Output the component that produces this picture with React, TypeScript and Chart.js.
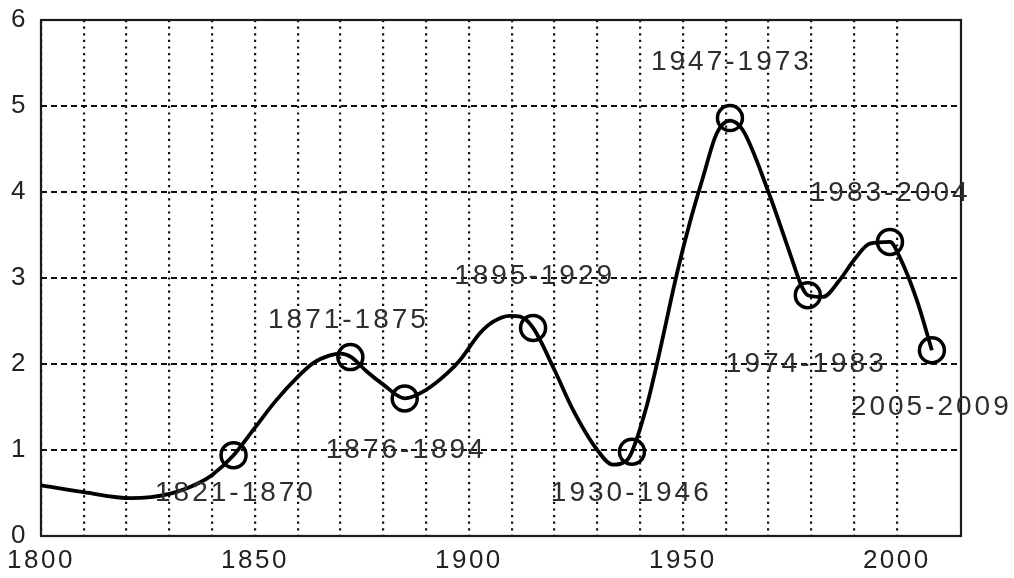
import React, { useEffect, useRef } from 'react';
import { Chart, registerables } from 'chart.js';

Chart.register(...registerables);

// Smooth curve
const curveYears = [
  1800, 1810, 1821, 1830, 1837, 1840, 1845, 1850, 1855, 1860, 1863.6, 1867.5, 1870, 1872.5,
  1876.2, 1880, 1885, 1890, 1894.9, 1898, 1902.6, 1905.6, 1909.6, 1912, 1915, 1920, 1924.3,
  1930, 1933.6, 1936.9, 1938.1, 1941.6, 1944.2, 1948.6, 1951.6, 1954.7, 1957.9, 1961, 1964,
  1970, 1975, 1977.8, 1979.2, 1982.7, 1986.7, 1990, 1993.7, 1998.4, 2000.7, 2004.7, 2008.2,
];
const curveValues = [
  0.59, 0.51, 0.44, 0.49, 0.62, 0.71, 0.94, 1.26, 1.58, 1.85, 2.01, 2.1, 2.12, 2.08,
  1.91, 1.76, 1.6, 1.7, 1.89, 2.05, 2.36, 2.49, 2.56, 2.55, 2.42, 1.93, 1.47,
  1.0, 0.83, 0.88, 0.98, 1.52, 2.06, 3.05, 3.64, 4.17, 4.68, 4.83, 4.72,
  4.0, 3.29, 2.9, 2.8, 2.78, 2.98, 3.21, 3.4, 3.42, 3.24, 2.74, 2.16,
];

// Circle markers (one per period)
const pointYears = [1845, 1872.3, 1885, 1915, 1938.1, 1961, 1979.2, 1998.4, 2008.2];
const pointValues = [0.94, 2.08, 1.6, 2.42, 0.98, 4.86, 2.8, 3.42, 2.16];
const periodLabels = [
  '1821-1870', '1871-1875', '1876-1894', '1895-1929', '1930-1946',
  '1947-1973', '1974-1983', '1983-2004', '2005-2009',
];
const labelYears = [1845.1, 1871.5, 1885, 1915, 1937.6, 1961, 1978.5, 1998.1, 2007.7];
const labelValues = [0.5, 2.51, 1.0, 3.02, 0.5, 5.51, 2.0, 3.99, 1.5];

const xMin = 1800;
const xMax = 2015;
const yMin = 0;
const yMax = 6;

const FONT = "'Liberation Sans', Arial, sans-serif";

const spacingPlugin = {
  id: 'spacing',
  beforeUpdate(chart: any) {
    chart.ctx.letterSpacing = '2.5px';
  },
  beforeDraw(chart: any) {
    chart.ctx.letterSpacing = '2.5px';
  },
};

const framePlugin = {
  id: 'frame',
  beforeDatasetsDraw(chart: any) {
    const { ctx, chartArea: a } = chart;
    ctx.save();
    ctx.setLineDash([]);
    ctx.lineWidth = 2.2;
    ctx.strokeStyle = '#1a1a1a';
    ctx.strokeRect(a.left, a.top, a.right - a.left, a.bottom - a.top);
    ctx.restore();
  },
};

const labelPlugin = {
  id: 'periodLabels',
  afterDatasetsDraw(chart: any) {
    const { ctx } = chart;
    const xs = chart.scales.x;
    const ys = chart.scales.y;
    ctx.save();
    ctx.letterSpacing = '3px';
    ctx.font = `28px ${FONT}`;
    ctx.fillStyle = '#2e2e2e';
    ctx.textAlign = 'center';
    ctx.textBaseline = 'middle';
    periodLabels.forEach((t, i) => {
      ctx.fillText(t, xs.getPixelForValue(labelYears[i]) + 1.5, ys.getPixelForValue(labelValues[i]));
    });
    ctx.restore();
  },
};

export default function App() {
  const ref = useRef<HTMLCanvasElement | null>(null);

  useEffect(() => {
    if (!ref.current) return;
    const chart = new Chart(ref.current, {
      type: 'line',
      data: {
        datasets: [
          {
            label: 'curve',
            data: curveYears.map((x, i) => ({ x, y: curveValues[i] })),
            borderColor: '#000',
            borderWidth: 3.8,
            pointRadius: 0,
            cubicInterpolationMode: 'monotone',
            fill: false,
          },
          {
            label: 'points',
            data: pointYears.map((x, i) => ({ x, y: pointValues[i] })),
            showLine: false,
            pointRadius: 12.5,
            pointBorderWidth: 3.5,
            pointBorderColor: '#000',
            pointBackgroundColor: 'rgba(0,0,0,0)',
          },
        ],
      },
      options: {
        animation: false,
        responsive: true,
        maintainAspectRatio: false,
        layout: { padding: { top: 20, right: 53, left: 0, bottom: 0 } },
        plugins: { legend: { display: false }, tooltip: { enabled: false } },
        scales: {
          x: {
            type: 'linear',
            min: xMin,
            max: xMax,
            afterBuildTicks: (s: any) => {
              s.ticks = s.ticks.filter((t: any) => t.value % 10 === 0);
            },
            afterFit: (s: any) => {
              s.height = 42;
              s.paddingLeft = 0;
              s.paddingRight = 0;
            },
            ticks: {
              stepSize: 10,
              autoSkip: false,
              maxRotation: 0,
              padding: 9,
              color: '#222',
              font: { family: FONT, size: 26 },
              callback: (v: any) => (Number(v) % 50 === 0 ? String(v) : ''),
            },
            grid: { color: '#111', lineWidth: 2.2, drawTicks: false },
            border: { display: false, dash: [2.2, 4.4] },
          },
          y: {
            min: yMin,
            max: yMax,
            afterFit: (s: any) => {
              s.width = 41;
              s.paddingTop = 0;
              s.paddingBottom = 0;
            },
            ticks: {
              stepSize: 1,
              padding: 13,
              color: '#222',
              font: { family: FONT, size: 26 },
            },
            grid: { color: '#111', lineWidth: 2, drawTicks: false },
            border: { display: false, dash: [6, 4] },
          },
        },
      },
      plugins: [spacingPlugin, framePlugin, labelPlugin],
    } as any);
    return () => chart.destroy();
  }, []);

  return (
    <div style={{ position: 'fixed', left: 0, top: 0, width: 1014, height: 578, background: '#fff' }}>
      <canvas ref={ref} />
    </div>
  );
}
